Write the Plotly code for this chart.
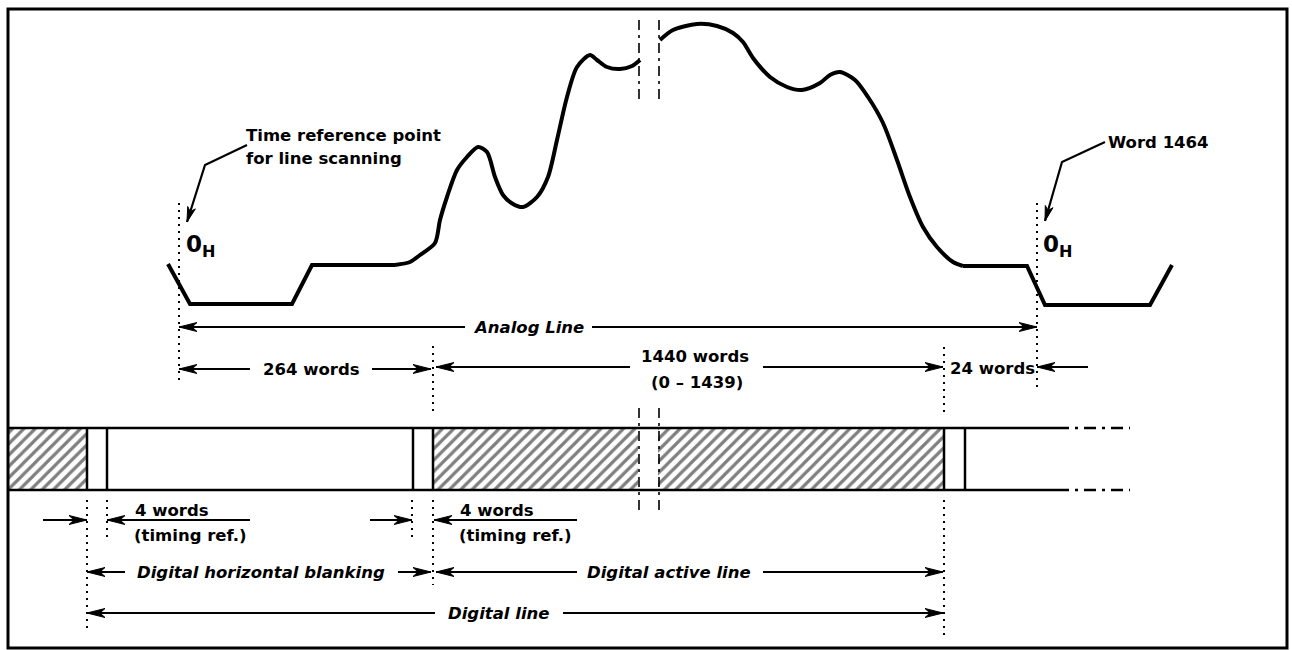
import plotly.graph_objects as go

# ----------------------------
# Analog waveform (diagram units: 1 unit = 1 px, y grows downward)
# ----------------------------

sync_left_x = [168, 190, 292, 312, 395]
sync_left_y = [264, 304, 304, 265, 265]

wave_a_x = [395, 410, 420, 435, 440, 447, 457, 467, 478, 487, 495, 503, 513, 523,
            537, 548, 557, 567, 577, 590, 597, 607, 620, 632, 640]
wave_a_y = [265, 262, 255, 243, 220, 197, 170, 157, 147, 152, 177, 195, 204, 207,
            197, 177, 140, 97, 67, 55, 60, 67, 69, 66, 60]

wave_b_x = [660, 673, 697, 717, 733, 743, 753, 770, 787, 802, 820, 830, 840, 855,
            868, 883, 897, 910, 923, 937, 953, 963]
wave_b_y = [40, 30, 24, 26, 33, 42, 58, 77, 87, 90, 83, 75, 72, 80,
            97, 123, 160, 197, 227, 247, 262, 266]

sync_right_x = [963, 1027, 1045, 1150, 1172]
sync_right_y = [266, 266, 305, 305, 265]

# ----------------------------
# Digital line bar
# ----------------------------

bar_top, bar_bottom = 428, 490
hatch_start = [8, 433, 658]
hatch_end = [87, 638, 944]
slot_edges_x = [87, 107, 413, 433, 944, 965]
break_x = [639, 659]

# dotted reference lines: x, y0, y1
dotted_x = [179, 1037, 433, 433, 944, 944, 87, 107, 412]
dotted_y0 = [203, 203, 346, 500, 347, 500, 500, 500, 500]
dotted_y1 = [383, 389, 411, 585, 412, 638, 633, 540, 541]

# dimension arrows: tip, tail, y
arrow_tip_x = [179, 1037, 179, 431, 436, 943, 1037, 87, 107, 412, 434, 87, 431, 436, 943, 87, 943]
arrow_tail_x = [465, 592, 250, 372, 630, 763, 1088, 43, 250, 370, 577, 125, 398, 577, 763, 435, 563]
arrow_y = [327, 327, 369, 369, 367, 367, 367, 520, 520, 520, 520, 572, 572, 572, 572, 613, 613]

# callout pointers
time_ref_x = [247, 205, 187]
time_ref_y = [145, 165, 222]
word_ref_x = [1105, 1062, 1045]
word_ref_y = [142, 162, 221]

# ----------------------------
# Labels
# ----------------------------

bold_labels = ["264 words", "1440 words", "(0 \u2013 1439)", "24 words",
               "4 words", "(timing ref.)", "4 words", "(timing ref.)"]
bold_x = [311, 695, 697, 992, 133, 132, 458, 457]
bold_y = [369, 356, 382, 368, 510, 535, 510, 535]
bold_anchor = ["center", "center", "center", "center", "left", "left", "left", "left"]

italic_labels = ["Analog Line", "Digital horizontal blanking", "Digital active line", "Digital line"]
italic_x = [528, 261, 669, 499]
italic_y = [327, 572, 572, 613]

FONT = "DejaVu Sans"
INK = "black"
TXT = 16.5


def arrow_head(tip_x, tip_y, from_x, from_y, length=18, width=9):
    dx, dy = tip_x - from_x, tip_y - from_y
    n = (dx * dx + dy * dy) ** 0.5
    ux, uy = dx / n, dy / n
    px, py = -uy, ux
    bx, by = tip_x - ux * length, tip_y - uy * length
    nx, ny = tip_x - ux * length * 0.72, tip_y - uy * length * 0.72
    xs = [tip_x, bx + px * width / 2, nx, bx - px * width / 2, tip_x, None]
    ys = [tip_y, by + py * width / 2, ny, by - py * width / 2, tip_y, None]
    return xs, ys


fig = go.Figure()

# waveform
fig.add_trace(go.Scatter(x=sync_left_x, y=sync_left_y, mode="lines",
                         line=dict(color=INK, width=4)))
fig.add_trace(go.Scatter(x=wave_a_x, y=wave_a_y, mode="lines",
                         line=dict(color=INK, width=4, shape="spline", smoothing=0.8)))
fig.add_trace(go.Scatter(x=wave_b_x, y=wave_b_y, mode="lines",
                         line=dict(color=INK, width=4, shape="spline", smoothing=0.8)))
fig.add_trace(go.Scatter(x=sync_right_x, y=sync_right_y, mode="lines",
                         line=dict(color=INK, width=4)))

# hatched blocks of the digital line
fig.add_trace(go.Bar(
    orientation="h",
    y=[(bar_top + bar_bottom) / 2] * len(hatch_start),
    x=[e - s for s, e in zip(hatch_start, hatch_end)],
    base=hatch_start,
    width=bar_bottom - bar_top,
    marker=dict(color="white", line=dict(width=0),
                pattern=dict(shape="/", fgcolor=INK, bgcolor="white", size=8, solidity=0.4)),
))

shapes = []
# outer frame
shapes.append(dict(type="rect", x0=8, x1=1287, y0=9, y1=648, line=dict(color=INK, width=3)))
# bar top / bottom
for yy in (bar_top, bar_bottom):
    shapes.append(dict(type="line", x0=8, x1=1057, y0=yy, y1=yy, line=dict(color=INK, width=2.5)))
    shapes.append(dict(type="line", x0=1057, x1=1130, y0=yy, y1=yy,
                       line=dict(color=INK, width=2.5, dash="12px,6px,3px,6px")))
for xx in slot_edges_x:
    shapes.append(dict(type="line", x0=xx, x1=xx, y0=bar_top, y1=bar_bottom, line=dict(color=INK, width=2.5)))
# break markers
for xx in break_x:
    shapes.append(dict(type="line", x0=xx, x1=xx, y0=408, y1=512,
                       line=dict(color=INK, width=1.6, dash="10px,5px,3px,5px")))
    shapes.append(dict(type="line", x0=xx, x1=xx, y0=20, y1=103,
                       line=dict(color=INK, width=1.6, dash="10px,5px,3px,5px")))
# dotted references
for xx, a, b in zip(dotted_x, dotted_y0, dotted_y1):
    shapes.append(dict(type="line", x0=xx, x1=xx, y0=a, y1=b,
                       line=dict(color=INK, width=2, dash="2px,5px")))

# dimension arrows: shafts + heads
shaft_x, shaft_y, head_x, head_y = [], [], [], []
for tip, tail, yy in zip(arrow_tip_x, arrow_tail_x, arrow_y):
    shaft_x += [tail, tip, None]
    shaft_y += [yy, yy, None]
    hx, hy = arrow_head(tip, yy, tail, yy)
    head_x += hx
    head_y += hy

for px_, py_ in ((time_ref_x, time_ref_y), (word_ref_x, word_ref_y)):
    shaft_x += px_ + [None]
    shaft_y += py_ + [None]
    hx, hy = arrow_head(px_[-1], py_[-1], px_[-2], py_[-2], length=15, width=8)
    head_x += hx
    head_y += hy

fig.add_trace(go.Scatter(x=shaft_x, y=shaft_y, mode="lines", line=dict(color=INK, width=2.2)))
fig.add_trace(go.Scatter(x=head_x, y=head_y, mode="lines", fill="toself", fillcolor=INK,
                         line=dict(color=INK, width=1)))

annotations = []
for t, xx, yy, anc in zip(bold_labels, bold_x, bold_y, bold_anchor):
    annotations.append(dict(x=xx, y=yy, text=t, showarrow=False, xanchor=anc, yanchor="middle",
                            font=dict(family=FONT, size=TXT, color=INK, weight="bold")))
for t, xx, yy in zip(italic_labels, italic_x, italic_y):
    annotations.append(dict(x=xx, y=yy, text=t, showarrow=False, xanchor="center", yanchor="middle",
                            font=dict(family=FONT, size=TXT, color=INK, weight="bold", style="italic")))

annotations.append(dict(x=244, y=135, text="Time reference point", showarrow=False, xanchor="left",
                        yanchor="middle", font=dict(family=FONT, size=TXT, color=INK, weight="bold")))
annotations.append(dict(x=244, y=158, text="for line scanning", showarrow=False, xanchor="left",
                        yanchor="middle", font=dict(family=FONT, size=TXT, color=INK, weight="bold")))
annotations.append(dict(x=1106, y=142, text="Word 1464", showarrow=False, xanchor="left",
                        yanchor="middle", font=dict(family=FONT, size=TXT, color=INK, weight="bold")))
for xx in (184, 1041):
    annotations.append(dict(x=xx, y=246, text="0<sub>H</sub>", showarrow=False, xanchor="left",
                            yanchor="middle", font=dict(family=FONT, size=23, color=INK, weight="bold")))

fig.update_layout(
    width=1292, height=650,
    margin=dict(l=0, r=0, t=0, b=0),
    paper_bgcolor="white", plot_bgcolor="white",
    showlegend=False,
    barmode="overlay",
    xaxis=dict(range=[0, 1292], visible=False, fixedrange=True),
    yaxis=dict(range=[650, 0], visible=False, fixedrange=True),
    shapes=shapes,
    annotations=annotations,
)

fig.write_html("out.html", config={"displayModeBar": False},
               post_script="document.body.style.margin='0';")
